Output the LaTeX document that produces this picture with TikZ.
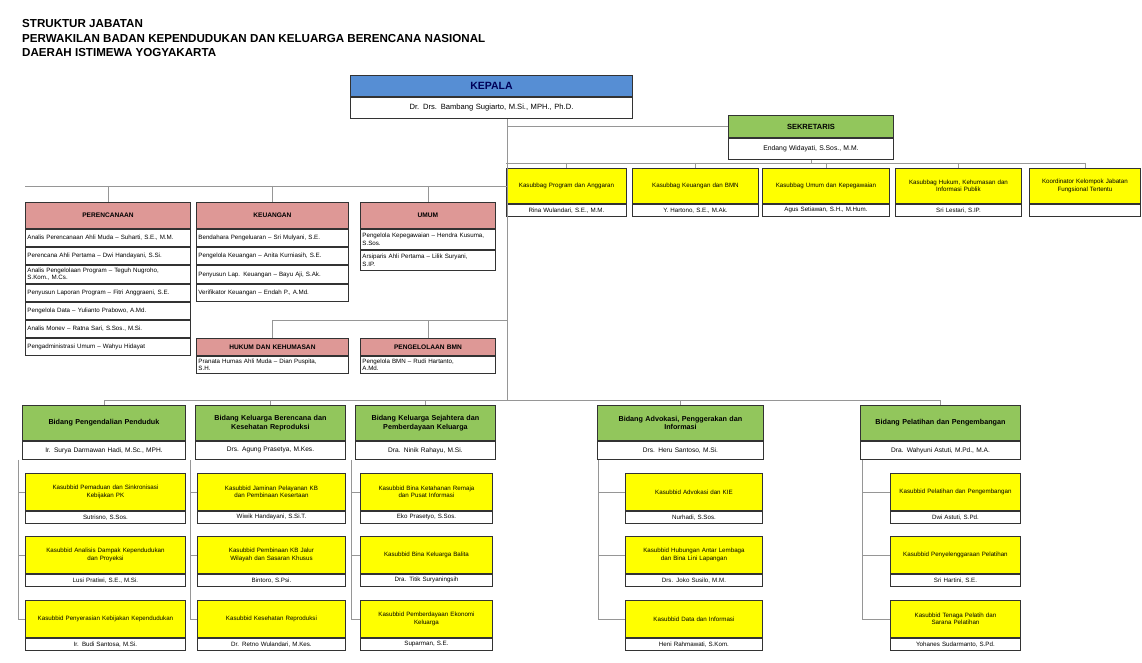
\documentclass[tikz,border=0pt]{standalone}
\usepackage{fontspec}
\setmainfont{Liberation Sans}
\usetikzlibrary{positioning}

\definecolor{kepblue}{RGB}{86,142,212}
\definecolor{leadgreen}{RGB}{146,198,92}
\definecolor{staffpink}{RGB}{222,152,150}
\definecolor{unityellow}{RGB}{255,255,0}
\definecolor{linegray}{RGB}{150,150,150}

\begin{document}
\begin{tikzpicture}[x=1pt, y=-1pt,
    wd/.style={text width=#1pt, minimum width=#1pt},
    box/.style={draw=black!80, line width=0.9pt, inner xsep=0pt, inner ysep=1pt,
      align=center, font=\fontsize{6.2}{7.2}\selectfont},
    title/.style={align=left, inner sep=0pt, font=\bfseries\fontsize{11.6}{14.8}\selectfont},
    hdrkep/.style={box, fill=kepblue, minimum height=21pt, text=blue!35!black,
      font=\bfseries\fontsize{10.5}{11}\selectfont},
    hdrsek/.style={box, fill=leadgreen, minimum height=22pt, font=\bfseries\fontsize{7.5}{8.5}\selectfont},
    hdrbid/.style={box, fill=leadgreen, minimum height=35pt, font=\bfseries\fontsize{7.2}{8.6}\selectfont},
    hdrstaf/.style={box, fill=staffpink, font=\bfseries\fontsize{6.6}{7.5}\selectfont},
    unit/.style={box, fill=unityellow},
    nmrow/.style={box, fill=white},
    staffrow/.style={box, fill=white, inner xsep=2pt, align=left, minimum height=17.3pt},
    conn/.style={draw=linegray, line width=0.8pt},
  ]
  \useasboundingbox (0,0) rectangle (1142,663);

  \node[title, anchor=north west] (title) at (22,19)
    {STRUKTUR JABATAN\\PERWAKILAN BADAN KEPENDUDUKAN DAN KELUARGA BERENCANA NASIONAL\\DAERAH ISTIMEWA YOGYAKARTA};

  % pimpinan
  \node[hdrkep, wd=282, anchor=north west] (kep) at (350,75) {KEPALA};
  \node[nmrow, wd=282, minimum height=21pt, below=0pt of kep, font=\fontsize{7.6}{8.6}\selectfont] (kep-nm)
    {Dr. Drs. Bambang Sugiarto, M.Si., MPH., Ph.D.};
  \node[hdrsek, wd=165, anchor=north west] (sek) at (728,115) {SEKRETARIS};
  \node[nmrow, wd=165, minimum height=21pt, below=0pt of sek, font=\fontsize{6.8}{7.8}\selectfont] (sek-nm)
    {Endang Widayati, S.Sos., M.M.};

  % sekretariat
  \foreach \col/\x/\w/\ttl/\nm in {
      1/506/120/{Kasubbag Program dan Anggaran}/{Rina Wulandari, S.E., M.M.},
      2/632/126/{Kasubbag Keuangan dan BMN}/{Y. Hartono, S.E., M.Ak.},
      3/762/127/{Kasubbag Umum dan Kepegawaian}/{Agus Setiawan, S.H., M.Hum.},
      4/895/126/{Kasubbag Hukum, Kehumasan dan\\Informasi Publik}/{Sri Lestari, S.IP.},
      5/1029/111/{Koordinator Kelompok Jabatan\\Fungsional Tertentu}/{}} {
    \node[unit, wd=\w, minimum height=35pt, anchor=north west] (s\col) at (\x,168) {\ttl};
    \node[nmrow, wd=\w, minimum height=12pt, below=0pt of s\col] (s\col-nm) {\nm};
  }

  % kelompok staf
  \node[hdrstaf, wd=165, minimum height=26pt, anchor=north west] (pa-0) at (25,202) {PERENCANAAN};
  \foreach \ttl [count=\k, remember=\k as \p (initially 0)] in {
      {Analis Perencanaan Ahli Muda -- Suharti, S.E., M.M.},
      {Perencana Ahli Pertama -- Dwi Handayani, S.Si.},
      {Analis Pengelolaan Program -- Teguh Nugroho,\\S.Kom., M.Cs.},
      {Penyusun Laporan Program -- Fitri Anggraeni, S.E.},
      {Pengelola Data -- Yulianto Prabowo, A.Md.},
      {Analis Monev -- Ratna Sari, S.Sos., M.Si.},
      {Pengadministrasi Umum -- Wahyu Hidayat}} {
    \node[staffrow, wd=161, below=0pt of pa-\p] (pa-\k) {\ttl};
  }
  \node[hdrstaf, wd=152, minimum height=26pt, anchor=north west] (pb-0) at (196,202) {KEUANGAN};
  \foreach \ttl [count=\k, remember=\k as \p (initially 0)] in {
      {Bendahara Pengeluaran -- Sri Mulyani, S.E.},
      {Pengelola Keuangan -- Anita Kurniasih, S.E.},
      {Penyusun Lap. Keuangan -- Bayu Aji, S.Ak.},
      {Verifikator Keuangan -- Endah P., A.Md.}} {
    \node[staffrow, wd=148, below=0pt of pb-\p] (pb-\k) {\ttl};
  }
  \node[hdrstaf, wd=135, minimum height=26pt, anchor=north west] (pc-0) at (360,202) {UMUM};
  \foreach \ttl [count=\k, remember=\k as \p (initially 0)] in {
      {Pengelola Kepegawaian -- Hendra Kusuma,\\S.Sos.},
      {Arsiparis Ahli Pertama -- Lilik Suryani,\\S.IP.}} {
    \node[staffrow, wd=131, minimum height=20pt, below=0pt of pc-\p] (pc-\k) {\ttl};
  }
  \node[hdrstaf, wd=152, minimum height=17pt, anchor=north west] (pd-0) at (196,338) {HUKUM DAN KEHUMASAN};
  \node[staffrow, wd=148, below=0pt of pd-0] (pd-1) {Pranata Humas Ahli Muda -- Dian Puspita,\\S.H.};
  \node[hdrstaf, wd=135, minimum height=17pt, anchor=north west] (pe-0) at (360,338) {PENGELOLAAN BMN};
  \node[staffrow, wd=131, below=0pt of pe-0] (pe-1) {Pengelola BMN -- Rudi Hartanto,\\A.Md.};

  % bidang
  \foreach \col/\x/\w/\ttl/\nm in {
      a/22/163/{Bidang Pengendalian Penduduk}/{Ir. Surya Darmawan Hadi, M.Sc., MPH.},
      b/195/150/{Bidang Keluarga Berencana dan\\Kesehatan Reproduksi}/{Drs. Agung Prasetya, M.Kes.},
      c/355/140/{Bidang Keluarga Sejahtera dan\\Pemberdayaan Keluarga}/{Dra. Ninik Rahayu, M.Si.},
      d/597/166/{Bidang Advokasi, Penggerakan dan\\Informasi}/{Drs. Heru Santoso, M.Si.},
      e/860/160/{Bidang Pelatihan dan Pengembangan}/{Dra. Wahyuni Astuti, M.Pd., M.A.}} {
    \node[hdrbid, wd=\w, anchor=north west] (g\col) at (\x,405) {\ttl};
    \node[nmrow, wd=\w, minimum height=18pt, below=0pt of g\col, font=\fontsize{6.6}{7.6}\selectfont] (g\col-nm) {\nm};
  }

  % sub bidang
  \foreach \col/\x/\w/\rx/\ta/\na/\tb/\nb/\tc/\nc in {
      a/25/160/18/{Kasubbid Pemaduan dan Sinkronisasi\\Kebijakan PK}/{Sutrisno, S.Sos.}/%
        {Kasubbid Analisis Dampak Kependudukan\\dan Proyeksi}/{Lusi Pratiwi, S.E., M.Si.}/%
        {Kasubbid Penyerasian Kebijakan Kependudukan}/{Ir. Budi Santosa, M.Si.},
      b/197/148/190/{Kasubbid Jaminan Pelayanan KB\\dan Pembinaan Kesertaan}/{Wiwik Handayani, S.Si.T.}/%
        {Kasubbid Pembinaan KB Jalur\\Wilayah dan Sasaran Khusus}/{Bintoro, S.Psi.}/%
        {Kasubbid Kesehatan Reproduksi}/{Dr. Retno Wulandari, M.Kes.},
      c/360/132/351/{Kasubbid Bina Ketahanan Remaja\\dan Pusat Informasi}/{Eko Prasetyo, S.Sos.}/%
        {Kasubbid Bina Keluarga Balita}/{Dra. Titik Suryaningsih}/%
        {Kasubbid Pemberdayaan Ekonomi\\Keluarga}/{Suparman, S.E.},
      d/625/137/598/{Kasubbid Advokasi dan KIE}/{Nurhadi, S.Sos.}/%
        {Kasubbid Hubungan Antar Lembaga\\dan Bina Lini Lapangan}/{Drs. Joko Susilo, M.M.}/%
        {Kasubbid Data dan Informasi}/{Heni Rahmawati, S.Kom.},
      e/890/130/862/{Kasubbid Pelatihan dan Pengembangan}/{Dwi Astuti, S.Pd.}/%
        {Kasubbid Penyelenggaraan Pelatihan}/{Sri Hartini, S.E.}/%
        {Kasubbid Tenaga Pelatih dan\\Sarana Pelatihan}/{Yohanes Sudarmanto, S.Pd.}} {
    \coordinate (\col-rail) at (\rx,0);
    \foreach \k/\y/\ttl/\nm in {1/473/\ta/\na, 2/536/\tb/\nb, 3/600/\tc/\nc} {
      \node[unit, wd=\w, minimum height=37pt, anchor=north west] (\col\k) at (\x,\y) {\ttl};
      \node[nmrow, wd=\w, minimum height=12pt, below=0pt of \col\k] (\col\k-nm) {\nm};
      \draw[conn] (\col\k.west -| \col-rail) -- (\col\k.west);
    }
    \draw[conn] (g\col-nm.south -| \col-rail) -- (\col3.west -| \col-rail);
  }

  % garis komando
  \coordinate (trunk) at (507,400);
  \coordinate (sbus) at (0,163);
  \coordinate (lbus) at (0,186);
  \coordinate (mbus) at (0,320);
  \draw[conn] (kep-nm.south -| trunk) -- (trunk);
  \draw[conn] (sek.west -| trunk) -- (sek.west);
  \draw[conn] (sek-nm.south) -- (sek-nm.south |- sbus);
  \draw[conn] (s1.north west |- sbus) -- (s5.north |- sbus);
  \foreach \col in {1,...,5}
    \draw[conn] (s\col.north |- sbus) -- (s\col.north);
  \draw[conn] (pa-0.north west |- lbus) -- (lbus -| trunk);
  \foreach \col in {a,b,c}
    \draw[conn] (p\col-0.north |- lbus) -- (p\col-0.north);
  \draw[conn] (pd-0.north |- mbus) -- (mbus -| trunk);
  \foreach \col in {d,e}
    \draw[conn] (p\col-0.north |- mbus) -- (p\col-0.north);
  \draw[conn] (ga.north |- trunk) -- (ge.north |- trunk);
  \foreach \col in {a,...,e}
    \draw[conn] (g\col.north |- trunk) -- (g\col.north);
\end{tikzpicture}
\end{document}
